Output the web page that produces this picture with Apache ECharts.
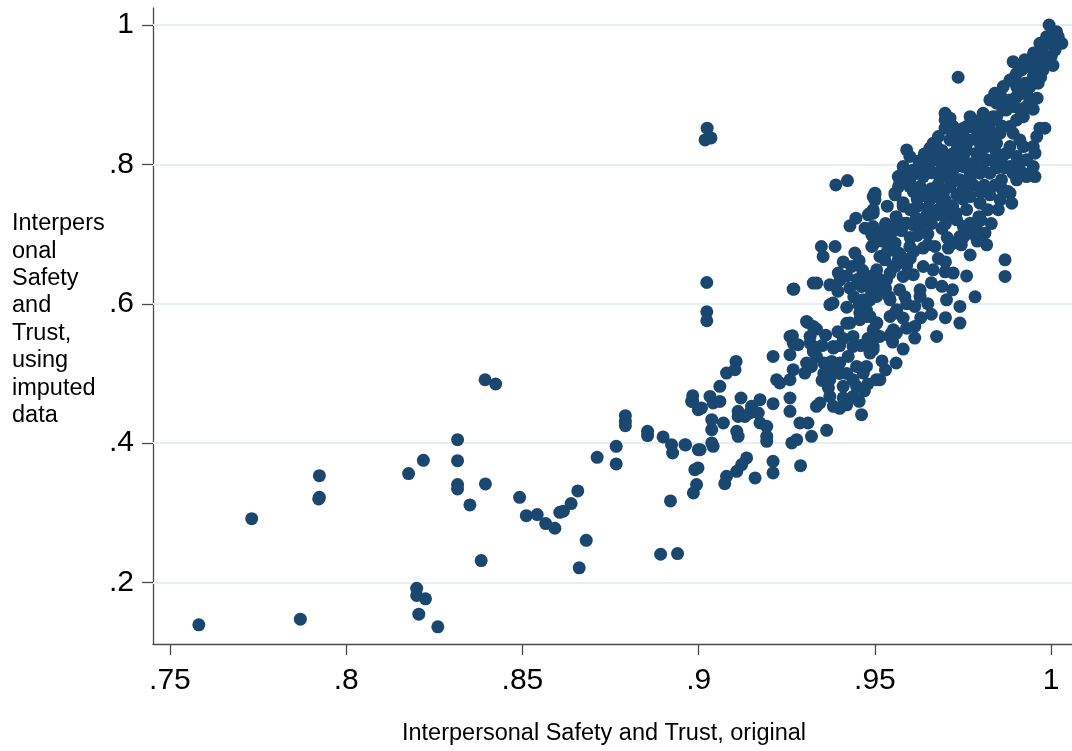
<!DOCTYPE html>
<html>
<head>
<meta charset="utf-8">
<script src="https://cdn.jsdelivr.net/npm/echarts@6/dist/echarts.min.js"></script>
<style>
html,body{margin:0;padding:0;background:#fff;}
#chart{width:1072px;height:751px;}
</style>
</head>
<body>
<div id="chart"></div>
<script>
// ---- data (x = original, y = using imputed data) ----
const lowTail = [
[0.7582,0.1393],[0.7732,0.2917],[0.7870,0.1474],[0.7924,0.3534],[0.7924,0.3223],[0.7922,0.3200],
[0.8177,0.3563],[0.8219,0.3754],[0.8200,0.1918],[0.8200,0.1814],[0.8225,0.1766],[0.8206,0.1546],[0.8260,0.1365],
[0.8316,0.4050],[0.8316,0.3749],[0.8316,0.3405],[0.8316,0.3343],[0.8351,0.3114],[0.8383,0.2315],[0.8395,0.3415],[0.8394,0.4910],[0.8424,0.4849],
[0.8492,0.3223],[0.8511,0.2960],[0.8542,0.2975],[0.8566,0.2846],[0.8592,0.2779],[0.8606,0.3008],[0.8616,0.3023],[0.8638,0.3133],[0.8657,0.3315],[0.8681,0.2606],[0.8661,0.2211],
[0.8712,0.3797],[0.8766,0.3954],[0.8766,0.3702],[0.8792,0.4394],[0.8792,0.4313],[0.8792,0.4251],[0.8855,0.4169],[0.8855,0.4108],[0.8899,0.4089],[0.8923,0.3978],[0.8926,0.3859],[0.8920,0.3171],[0.8892,0.2406],[0.8940,0.2416]
];
const midBand = [
[0.8963,0.3974],[0.8983,0.4681],[0.8983,0.4600],[0.8999,0.4480],[0.8989,0.3620],[0.8998,0.3644],[0.8985,0.3286],[0.8994,0.3405],[0.8999,0.3907],[0.8961,0.3978],[0.9004,0.3907],[0.9037,0.4003],[0.9041,0.3954],[0.9037,0.4194],[0.9037,0.4337],[0.9070,0.4289],[0.8980,0.4599],[0.9008,0.4505],[0.9032,0.4671],[0.9041,0.4576],[0.9060,0.4599],[0.9060,0.4815],[0.9079,0.5006],[0.9106,0.5173],[0.9103,0.5054],
[0.9024,0.8519],[0.9018,0.8351],[0.9035,0.8380],[0.9023,0.6305],[0.9023,0.5885],[0.9023,0.5756],
[0.9112,0.4456],[0.9112,0.4384],[0.9131,0.4384],[0.9145,0.4433],[0.9150,0.4528],[0.9174,0.4624],[0.9169,0.4433],[0.9174,0.4289],[0.9193,0.4241],[0.9193,0.4098],[0.9193,0.4026],[0.9120,0.4648],[0.9108,0.4169],[0.9112,0.4098],[0.9136,0.3788],[0.9122,0.3692],[0.9108,0.3596],[0.9079,0.3524],[0.9074,0.3419],[0.9160,0.3501],
[0.9211,0.4566],[0.9211,0.3739],[0.9211,0.3573],[0.9268,0.5054],[0.9259,0.4910],[0.9230,0.4863],[0.9221,0.4910],[0.9301,0.5006],[0.9259,0.4648],[0.9259,0.4456],[0.9287,0.4289],[0.9310,0.4289],[0.9320,0.4098],[0.9278,0.4050],[0.9264,0.4003],[0.9289,0.3677],[0.9266,0.5541],[0.9282,0.5412],[0.9259,0.5269],[0.9211,0.5245],[0.9268,0.6210],
[0.9309,0.5732],[0.9334,0.5637],[0.9316,0.5436],[0.9325,0.5316],[0.9334,0.5245],[0.9306,0.5150],[0.9320,0.5101],[0.9382,0.5364],[0.9377,0.5173],[0.9382,0.5054],[0.9372,0.4910],[0.9368,0.4791],[0.9372,0.4671],[0.9382,0.4528],[0.9344,0.4576],[0.9334,0.4528],[0.9363,0.4184],[0.9372,0.5986],[0.9381,0.6010],
[0.9348,0.6822],[0.9353,0.6678],[0.9387,0.6822],[0.9389,0.7706],[0.9396,0.6440],[0.9401,0.6344],[0.9372,0.6272],[0.9335,0.6297],[0.9325,0.6297],[0.9270,0.6211],
[0.9306,0.5746],[0.9325,0.5675],[0.9259,0.5531],[0.9268,0.5436],[0.9316,0.5531],[0.9325,0.5388],[0.9382,0.5388],
[0.9360,0.5550],[0.9350,0.5400],[0.9355,0.5150],[0.9355,0.5000],[0.9350,0.4900],[0.9395,0.5600],[0.9400,0.5400],[0.9400,0.5150],[0.9400,0.5000],[0.9400,0.4500],[0.9395,0.6180]
];
const upperBand = [
[0.9422,0.7768],[0.9500,0.7563],[0.9500,0.7491],[0.9495,0.7300],[0.9481,0.7276],[0.9446,0.7228],[0.9429,0.7118],[0.9472,0.7085],[0.9491,0.7061],[0.9491,0.6989],[0.9443,0.6727],[0.9434,0.6535],[0.9491,0.6822],[0.9552,0.6870],[0.9567,0.7682],[0.9429,0.6225],[0.9462,0.6248],[0.9476,0.6368],
[0.9514,0.6678],[0.9528,0.6631],[0.9505,0.6487],[0.9486,0.6392],[0.9495,0.6297],[0.9514,0.6248],[0.9533,0.6344],[0.9543,0.6440],[0.9557,0.6535],
[0.9429,0.5723],[0.9438,0.5531],[0.9457,0.5771],[0.9486,0.5818],[0.9505,0.5723],[0.9514,0.5531],[0.9543,0.5531],[0.9552,0.5627],[0.9543,0.5818],[0.9562,0.5914],[0.9486,0.6057],[0.9467,0.6010],
[0.9420,0.5720],[0.9424,0.5245],[0.9438,0.5388],[0.9448,0.5101],[0.9467,0.5006],[0.9438,0.4910],[0.9410,0.4815],[0.9448,0.4815],[0.9438,0.4671],[0.9462,0.4409],[0.9495,0.5388],[0.9486,0.5293],[0.9476,0.5101],[0.9504,0.4910],[0.9495,0.5627],[0.9476,0.5818],[0.9467,0.6057],[0.9476,0.5914],[0.9457,0.5866],[0.9514,0.4910],
[0.9495,0.7538],[0.9557,0.7563],[0.9609,0.7610],[0.9656,0.7491],[0.9675,0.7538],[0.9694,0.7587],[0.9732,0.7563],[0.9770,0.7538],[0.9798,0.7443],[0.9826,0.7563],[0.9855,0.7491],[0.9883,0.7587],[0.9888,0.7443],
[0.9590,0.7157],[0.9618,0.7228],[0.9647,0.7276],[0.9675,0.7276],[0.9703,0.7276],[0.9628,0.7108],[0.9609,0.7133],
[0.9732,0.7204],[0.9751,0.7108],[0.9770,0.7157],[0.9741,0.6965],[0.9770,0.7013],[0.9722,0.6870],
[0.9812,0.7013],[0.9817,0.6846],[0.9869,0.6631],[0.9869,0.6392],
[0.9745,0.6846],[0.9708,0.6799],[0.9670,0.6822],[0.9637,0.6799],[0.9599,0.6822],[0.9557,0.6870],[0.9495,0.7108],[0.9495,0.6846],
[0.9722,0.6440],[0.9703,0.6057],[0.9741,0.5962],[0.9741,0.5723],[0.9675,0.5531],[0.9613,0.5675],[0.9613,0.5508],[0.9547,0.5579],[0.9561,0.5579],[0.9580,0.5794],[0.9613,0.5962],[0.9628,0.6201],[0.9628,0.6106],[0.9665,0.6487],[0.9637,0.6535],[0.9609,0.6416],[0.9566,0.6631],[0.9524,0.6678],
[0.9505,0.6392],[0.9505,0.6106],[0.9505,0.5723],[0.9505,0.5531],[0.9495,0.5340],[0.9543,0.6057],[0.9557,0.5866],[0.9524,0.6201],[0.9580,0.6392],[0.9552,0.6535],
[0.9699,0.6459],[0.9784,0.6100],
[0.9410,0.6600],[0.9455,0.6620],[0.9465,0.6480],[0.9420,0.6400],[0.9450,0.6350],[0.9440,0.6100],[0.9455,0.5980],[0.9420,0.5950],[0.9490,0.6180],[0.9530,0.6220],[0.9540,0.6100],[0.9570,0.6200],[0.9585,0.6100],[0.9590,0.6000],
[0.9570,0.6720],[0.9600,0.6650],[0.9590,0.6550],[0.9535,0.6750],[0.9520,0.6900],[0.9545,0.7000],[0.9575,0.7050],[0.9600,0.6950],[0.9530,0.7150],[0.9560,0.7250],[0.9535,0.7400],[0.9580,0.7400],[0.9620,0.7400],[0.9650,0.7380],[0.9690,0.7420],[0.9720,0.7400],
[0.9660,0.7150],[0.9690,0.7080],[0.9705,0.6950],[0.9650,0.7000],[0.9620,0.6980],[0.9680,0.6650],[0.9700,0.6600],[0.9660,0.6300],[0.9690,0.6250],[0.9650,0.6000],[0.9660,0.5850],[0.9630,0.5800],[0.9590,0.5650],[0.9700,0.5800],[0.9720,0.6200],
[0.9550,0.5450],[0.9580,0.5350],[0.9520,0.5180],[0.9560,0.5150],[0.9530,0.5050],[0.9480,0.5500],[0.9460,0.5400],[0.9410,0.5500],[0.9420,0.5000],[0.9410,0.4650],[0.9420,0.4550],[0.9455,0.4600],[0.9470,0.4750],[0.9480,0.4850],
[0.9600,0.7350],[0.9640,0.7200],[0.9680,0.7350],[0.9730,0.7300],[0.9760,0.7350],[0.9800,0.7200],[0.9830,0.7150],[0.9790,0.7050],[0.9750,0.6950],[0.9700,0.7150],[0.9650,0.6850],[0.9610,0.6750],[0.9560,0.6750],[0.9580,0.7150],[0.9550,0.7100],[0.9520,0.7050]
];
const topBand = [
[0.9675,0.8255],[0.9665,0.8161],[0.9656,0.8017],[0.9680,0.8113],[0.9713,0.8351],[0.9732,0.8208],[0.9760,0.8208],[0.9788,0.8161],[0.9817,0.8255],[0.9845,0.8303],[0.9873,0.8161],[0.9902,0.8113],[0.9883,0.7968],[0.9911,0.7921],[0.9930,0.7825],[0.9859,0.7778],[0.9826,0.7874],[0.9798,0.7874],[0.9770,0.7778],[0.9741,0.7778],[0.9713,0.7682],[0.9689,0.7587],[0.9656,0.7587],[0.9628,0.7682],[0.9599,0.7682],[0.9609,0.7921],[0.9590,0.8208],[0.9580,0.7874],[0.9571,0.7730],[0.9557,0.7587],[0.9500,0.7587],[0.9878,0.7610],
[0.9994,1.0000],[1.0015,0.9904],[1.0020,0.9832],[1.0030,0.9737],[1.0011,0.9642],[1.0001,0.9760],
[0.9977,0.9689],[0.9968,0.9594],[0.9959,0.9474],[0.9954,0.9402],[0.9977,0.9355],[0.9949,0.9259],[0.9940,0.9116],[0.9963,0.9164],[0.9930,0.9021],[0.9926,0.9164],
[0.9892,0.9474],[0.9911,0.9402],[0.9897,0.9259],[0.9902,0.9116],[0.9736,0.9250],[0.9949,0.8791],
[0.9968,0.8519],[0.9982,0.8519],[0.9959,0.8399],[0.9949,0.8255],[0.9954,0.8161],[0.9949,0.7968],[0.9940,0.7874],[0.9954,0.7825],
[0.9855,0.9021],[0.9864,0.8925],[0.9845,0.8878],[0.9873,0.8781],[0.9835,0.8685],[0.9826,0.8591],[0.9807,0.8734],[0.9798,0.8638],
[0.9699,0.8734],[0.9713,0.8663],[0.9699,0.8519],[0.9722,0.8542],[0.9751,0.8519],[0.9770,0.8542],[0.9788,0.8495],[0.9807,0.8447],
[0.9826,0.8925],[0.9840,0.9020],[0.9864,0.9116],[0.9883,0.9211],[0.9902,0.9307],[0.9916,0.9355],[0.9930,0.9402],[0.9940,0.9498],[0.9968,0.9737],[0.9987,0.9832],
[0.9883,0.8925],[0.9902,0.8972],[0.9921,0.9021],[0.9864,0.8781],[0.9892,0.8829],[0.9845,0.8685],[0.9817,0.8542],[0.9788,0.8591],[0.9770,0.8685],[0.9760,0.8542],[0.9741,0.8447],[0.9770,0.8351],[0.9798,0.8303],[0.9826,0.8351],[0.9855,0.8447],[0.9883,0.8542],[0.9902,0.8638],[0.9921,0.8685],[0.9930,0.8829],[0.9940,0.8925],[0.9892,0.8447],[0.9911,0.8351],[0.9883,0.8255],[0.9845,0.8161],[0.9817,0.8065],[0.9779,0.8017],[0.9751,0.7968],[0.9722,0.7921],[0.9694,0.7874],[0.9675,0.7874],[0.9637,0.7825],[0.9618,0.7874],[0.9751,0.8113],[0.9703,0.8017],[0.9770,0.7874],[0.9892,0.7874],[0.9902,0.7778],[0.9930,0.8065],[0.9921,0.8255],
[0.9599,0.8113],[0.9580,0.7968],[0.9566,0.7825],[0.9599,0.7778],[0.9618,0.7634],[0.9699,0.8638],[0.9665,0.8303],[0.9656,0.8232],[0.9618,0.7921],[0.9571,0.7825],[0.9609,0.7634],[0.9628,0.7659],[0.9486,0.7300],[0.9495,0.7348],
[0.9760,0.6400],[0.9770,0.6700],[0.9790,0.6900],[0.9795,0.7250],[0.9820,0.7350],[0.9850,0.7350],[0.9860,0.7650],[0.9840,0.7700],[0.9810,0.7700],[0.9750,0.7650],[0.9720,0.7750],[0.9680,0.7720],[0.9640,0.7550],[0.9580,0.7450],
[0.9625,0.8050],[0.9640,0.8150],[0.9700,0.8050],[0.9730,0.8080],[0.9740,0.8300],[0.9800,0.8150],[0.9835,0.8050],[0.9860,0.8100],[0.9870,0.7950],[0.9845,0.7950],[0.9805,0.7980],[0.9900,0.7990],
[0.9860,0.8550],[0.9800,0.8550],[0.9835,0.8450],[0.9910,0.8800],[0.9960,0.8950],[0.9970,0.9250],[0.9985,0.9450],[1.0000,0.9550],[1.0005,0.9420],[0.9950,0.9600],[0.9925,0.9500],[0.9985,0.9550],
[0.9640,0.7950],[0.9690,0.8000],[0.9720,0.8150],[0.9760,0.8300],[0.9790,0.8400],[0.9750,0.8420],[0.9720,0.8460],[0.9680,0.8400],[0.9690,0.8200],[0.9660,0.7880],[0.9710,0.7800],[0.9780,0.7700],[0.9800,0.7600],[0.9750,0.7500],[0.9700,0.7480],[0.9660,0.7650],[0.9620,0.7500]
];

const xTickValues = [0.75, 0.80, 0.85, 0.90, 0.95, 1.00];
const xTickLabels = ['.75', '.8', '.85', '.9', '.95', '1'];
const yTickValues = [0.2, 0.4, 0.6, 0.8, 1.0];
const yTickLabels = ['.2', '.4', '.6', '.8', '1'];
const xTitle = 'Interpersonal Safety and Trust, original';
const yTitleLines = ['Interpers', 'onal', 'Safety', 'and', 'Trust,', 'using', 'imputed', 'data'];

// ---- chart ----
const allPoints = lowTail.concat(midBand, upperBand, topBand);
const FONT = '"Liberation Sans", Arial, Helvetica, sans-serif';
const AXIS_COLOR = '#4a4a4a';
const GRID_COLOR = '#e8eff2';
const labelFor = (vals, labels) => v => {
  for (let i = 0; i < vals.length; i++) if (Math.abs(vals[i] - v) < 1e-6) return labels[i];
  return '';
};

const chart = echarts.init(document.getElementById('chart'), null, {renderer: 'canvas'});
chart.setOption({
  animation: false,
  backgroundColor: '#ffffff',
  title: {
    text: yTitleLines.join('\n'),
    left: 12,
    top: 210,
    padding: 0,
    textStyle: {fontFamily: FONT, fontSize: 23.5, fontWeight: 'normal', color: '#000', lineHeight: 27.4}
  },
  grid: {left: 153, top: 8, right: 0, bottom: 106, containLabel: false},
  xAxis: {
    type: 'value',
    min: 0.7452,
    max: 1.0059,
    name: xTitle,
    nameLocation: 'middle',
    nameGap: 78,
    nameTextStyle: {fontFamily: FONT, fontSize: 23.5, color: '#000', padding: [0, 17, 0, 0]},
    axisLine: {show: true, onZero: false, lineStyle: {color: AXIS_COLOR, width: 1.3}},
    axisTick: {show: true, length: 11, inside: false, customValues: xTickValues, lineStyle: {color: AXIS_COLOR, width: 1.3}},
    axisLabel: {customValues: xTickValues, formatter: labelFor(xTickValues, xTickLabels), margin: 22, fontFamily: FONT, fontSize: 30, color: '#000'},
    splitLine: {show: false}
  },
  yAxis: {
    type: 'value',
    min: 0.1118,
    max: 1.0244,
    axisLine: {show: true, onZero: false, lineStyle: {color: AXIS_COLOR, width: 1.3}},
    axisTick: {show: true, length: 11, inside: false, customValues: yTickValues, lineStyle: {color: AXIS_COLOR, width: 1.3}},
    axisLabel: {customValues: yTickValues, formatter: labelFor(yTickValues, yTickLabels), margin: 19, fontFamily: FONT, fontSize: 30, color: '#000'},
    splitLine: {show: false}
  },
  series: [
    {
      type: 'line',
      data: [],
      silent: true,
      z: 1,
      markLine: {
        silent: true,
        z: 1,
        symbol: 'none',
        label: {show: false},
        lineStyle: {color: GRID_COLOR, width: 2, type: 'solid'},
        data: yTickValues.map(v => ({yAxis: v}))
      }
    },
    {
      type: 'scatter',
      data: allPoints,
      symbol: 'circle',
      symbolSize: 13,
      itemStyle: {color: '#1a476f', opacity: 1},
      z: 10
    }
  ]
});
</script>
</body>
</html>
